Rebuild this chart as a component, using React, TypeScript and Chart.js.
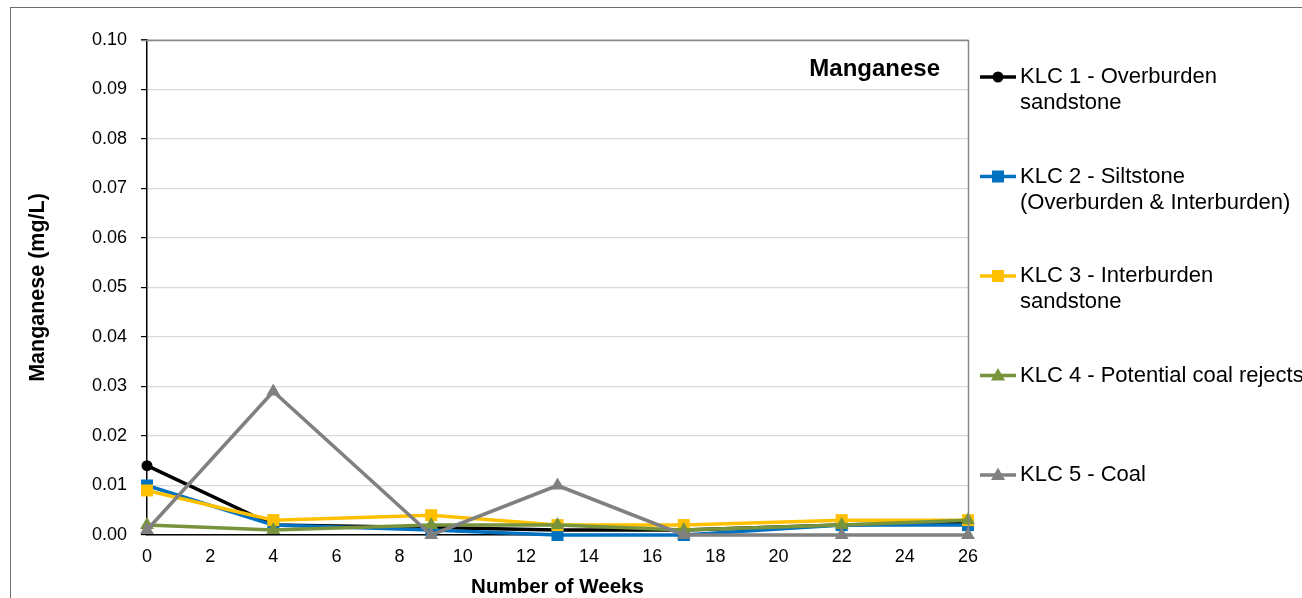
import React, { useEffect, useRef } from "react";
import { Chart, registerables } from "chart.js";

Chart.register(...registerables);

const weeks = [0, 4, 9, 13, 17, 22, 26];
const klc1 = [0.014, 0.002, 0.0015, 0.001, 0.001, 0.002, 0.0025];
const klc2 = [0.01, 0.002, 0.001, 0.0, 0.0, 0.002, 0.002];
const klc3 = [0.009, 0.003, 0.004, 0.002, 0.002, 0.003, 0.003];
const klc4 = [0.002, 0.001, 0.002, 0.002, 0.001, 0.002, 0.003];
const klc5 = [0.001, 0.029, 0.0, 0.01, 0.0, 0.0, 0.0];

const seriesNames = [
  ["KLC 1 - Overburden", "sandstone"],
  ["KLC 2 - Siltstone", "(Overburden & Interburden)"],
  ["KLC 3 - Interburden", "sandstone"],
  ["KLC 4 - Potential coal rejects"],
  ["KLC 5 - Coal"],
];
const seriesValues = [klc1, klc2, klc3, klc4, klc5];
const seriesColors = ["#000000", "#0070C0", "#FFC000", "#77933C", "#808080"];
const seriesMarkers = ["circle", "rect", "rect", "triangle", "triangle"];
const markerRadius = [5.5, 8.5, 8.5, 8, 8];

const chartTitle = "Manganese";
const yTitle = "Manganese (mg/L)";
const xTitle = "Number of Weeks";

const W = 1330;
const H = 615;
const AREA = { left: 147, right: 968, top: 40, bottom: 535 };
const FONT = "'Liberation Sans', Arial, sans-serif";

const decorPlugin = {
  id: "decor",
  beforeDraw(chart: any) {
    const ctx = chart.ctx;
    ctx.save();
    ctx.fillStyle = "#ffffff";
    ctx.fillRect(0, 0, chart.width, chart.height);
    ctx.strokeStyle = "#6e6e6e";
    ctx.lineWidth = 1;
    ctx.strokeRect(10.5, 7.5, chart.width + 50, chart.height + 50);
    ctx.restore();
  },
  afterDraw(chart: any) {
    const ctx = chart.ctx;
    const a = chart.chartArea;
    ctx.save();
    ctx.strokeStyle = "#868686";
    ctx.lineWidth = 1.5;
    ctx.beginPath();
    ctx.moveTo(a.left - 6, a.top + 0.5);
    ctx.lineTo(a.right + 0.5, a.top + 0.5);
    ctx.lineTo(a.right + 0.5, a.bottom);
    ctx.stroke();
    ctx.fillStyle = "#000000";
    ctx.font = `bold 24px ${FONT}`;
    ctx.textAlign = "right";
    ctx.textBaseline = "middle";
    ctx.fillText(chartTitle, a.right - 28, 69);
    const x0 = 980;
    const x1 = 1016;
    const mx = 998;
    seriesNames.forEach((lines, i) => {
      const y = 77 + i * 99.5;
      const c = seriesColors[i];
      ctx.strokeStyle = c;
      ctx.lineWidth = 3.5;
      ctx.beginPath();
      ctx.moveTo(x0, y);
      ctx.lineTo(x1, y);
      ctx.stroke();
      ctx.fillStyle = c;
      ctx.beginPath();
      const m = seriesMarkers[i];
      if (m === "circle") {
        ctx.arc(mx, y, 5.5, 0, Math.PI * 2);
      } else if (m === "rect") {
        ctx.rect(mx - 6, y - 6, 12, 12);
      } else {
        ctx.moveTo(mx, y - 7.5);
        ctx.lineTo(mx + 7, y + 5);
        ctx.lineTo(mx - 7, y + 5);
        ctx.closePath();
      }
      ctx.fill();
      ctx.fillStyle = "#000000";
      ctx.font = `22px ${FONT}`;
      ctx.textAlign = "left";
      ctx.textBaseline = "middle";
      lines.forEach((t, j) => {
        ctx.fillText(t, 1020, y + j * 26);
      });
    });
    ctx.restore();
  },
};

export default function App() {
  const ref = useRef<HTMLCanvasElement | null>(null);
  useEffect(() => {
    if (!ref.current) return;
    const datasets = seriesValues.map((vals, i) => ({
      label: seriesNames[i].join(" "),
      data: weeks.map((w, k) => ({ x: w, y: vals[k] })),
      borderColor: seriesColors[i],
      backgroundColor: seriesColors[i],
      borderWidth: 3.5,
      pointStyle: seriesMarkers[i] as any,
      pointRadius: markerRadius[i],
      pointBorderWidth: 0,
      pointBackgroundColor: seriesColors[i],
      tension: 0,
      clip: false as any,
      order: 5 - i,
    }));
    const chart = new Chart(ref.current, {
      type: "line",
      data: { datasets },
      options: {
        animation: false,
        responsive: false,
        maintainAspectRatio: false,
        devicePixelRatio: 1,
        layout: { padding: { left: 0, top: AREA.top, right: W - AREA.right, bottom: 0 } },
        plugins: { legend: { display: false }, tooltip: { enabled: false }, title: { display: false } },
        scales: {
          x: {
            type: "linear",
            min: 0,
            max: 26,
            ticks: {
              stepSize: 2,
              color: "#000000",
              font: { family: FONT, size: 18 },
              padding: 11,
              maxRotation: 0,
              autoSkip: false,
            },
            grid: { display: true, drawOnChartArea: false, drawTicks: false },
            border: { display: true, color: "#000000", width: 1.5 },
            title: {
              display: true,
              text: xTitle,
              color: "#000000",
              font: { family: FONT, size: 20.5, weight: "bold" },
              padding: { top: 0, bottom: 15.5 },
            },
            afterFit(scale: any) {
              scale.height = H - AREA.bottom;
            },
          },
          y: {
            type: "linear",
            min: 0,
            max: 0.1,
            ticks: {
              stepSize: 0.01,
              color: "#000000",
              font: { family: FONT, size: 18 },
              padding: 14,
              callback: (v: any) => Number(v).toFixed(2),
            },
            grid: { color: "#d9d9d9", tickColor: "#000000", tickLength: 6, lineWidth: 1.2 },
            border: { display: true, color: "#000000", width: 1.5 },
            title: {
              display: true,
              text: yTitle,
              color: "#000000",
              font: { family: FONT, size: 21.5, weight: "bold" },
              padding: { top: 25, bottom: 0 },
            },
            afterFit(scale: any) {
              scale.width = AREA.left;
            },
          },
        },
      },
      plugins: [decorPlugin],
    });
    return () => chart.destroy();
  }, []);
  return (
    <div
      style={{
        position: "fixed",
        left: 0,
        top: 0,
        width: 1302,
        height: 598,
        overflow: "hidden",
        background: "#ffffff",
      }}
    >
      <canvas ref={ref} width={W} height={H} style={{ display: "block", width: W, height: H }} />
    </div>
  );
}
